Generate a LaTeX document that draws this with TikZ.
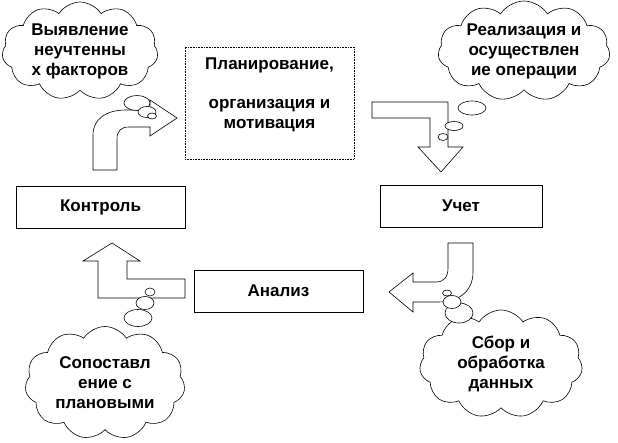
\documentclass[tikz,border=0pt]{standalone}
\usepackage{fontspec}
\setmainfont{Liberation Sans}
\usetikzlibrary{shapes.symbols}
\tikzset{%
	every box/.style={
		draw,
		line width=0.6pt,
		minimum width=169pt,
		minimum height=42pt
	},
	idea cloud/.style={
		cloud,
		draw,
		fill=white,
		line width=0.6pt,
		cloud puffs=11,
		cloud puff arc=115,
		cloud ignores aspect,
		inner sep=0pt,
		align=center
	},
	thought bubble/.style={draw, fill=white, line width=0.6pt},
	block arrow/.style={draw, fill=white, line width=0.6pt, line join=miter},
}

\begin{document}
\begin{tikzpicture}[
			x=1pt, y=-1pt,
			every node/.style={font=\fontsize{17}{20}\selectfont\bfseries}
			]
			\useasboundingbox (0,0) rectangle (618,442);

			% Boxes of the cycle
			\node[every box, densely dotted, minimum height=112pt] (plan) at (269.5,103) {};
			\node[align=center] (plantext) at (269.5,95) {Планирование,\\[19pt]организация и\\мотивация};
			\node[every box, minimum width=162pt] (ucet) at (461,206) {Учет};
			\node[every box] (kontrol) at (100.5,207) {Контроль};
			\node[every box] (analiz) at (278.5,291) {Анализ};

			% Block arrows between the boxes
			\draw[block arrow] (93,170) -- (93,135) .. controls (93,119) and (106,110) .. (126,110)
				-- (150,110) -- (150,100) -- (177,118) -- (150,136) -- (150,127) -- (129,127)
				.. controls (121,127) and (117,131) .. (117,139) -- (117,170) -- cycle;
			\draw[block arrow] (372,102) -- (448,102) -- (448,147) -- (463,147) -- (441,172)
				-- (418,147) -- (430,147) -- (430,118) -- (372,118) -- cycle;
			\draw[block arrow] (448,243) -- (473,243) -- (473,272) .. controls (473,292) and (458,302) .. (438,302)
				-- (413,302) -- (413,312) -- (389,292) -- (413,273) -- (413,282) -- (436,282)
				.. controls (444,282) and (448,277) .. (448,268) -- cycle;
			\draw[block arrow] (185,279) -- (127,279) -- (127,261) -- (140,261) -- (112,243)
				-- (83,261) -- (98,261) -- (98,298) -- (185,298) -- cycle;

			% Clouds with comments
			\node[idea cloud, minimum width=156pt, minimum height=98pt] (findcloud) at (80,51)
				{Выявление\\неучтенны\\х факторов};
			\node[idea cloud, minimum width=172pt, minimum height=98pt] (realcloud) at (524,51)
				{Реализация и\\осуществлен\\ие операции};
			\node[idea cloud, minimum width=160pt, minimum height=113pt] (compcloud) at (105,383)
				{Сопоставл\\ение с\\плановыми};
			\node[idea cloud, minimum width=163pt, minimum height=108pt] (datacloud) at (501,364)
				{Сбор и\\обработка\\данных};

			% Small bubbles
			\foreach \cx/\cy/\rx/\ry in {137/103/13/7.5, 147/112/9/5.5, 152/116/4.5/3,
				472/108/14/7, 454/126/9/4.5, 443/137/5/3.5,
				138/318/14/8.5, 145/303/9/6.5, 150/292/5/4,
				459/313/14/10, 452/302/9/6.5, 447/293/4.5/3}
				\draw[thought bubble] (\cx,\cy) ellipse ({\rx pt} and {\ry pt});

		\end{tikzpicture}
\end{document}
